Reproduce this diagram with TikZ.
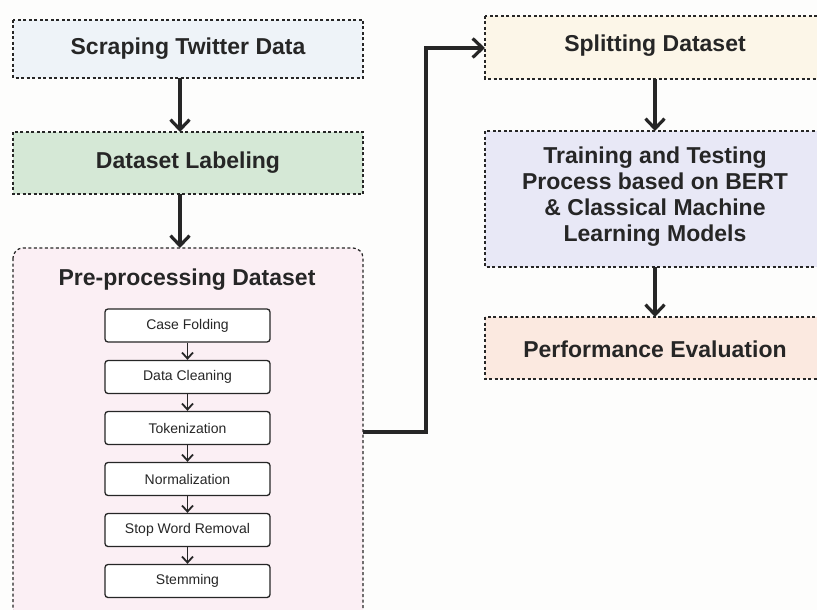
\documentclass[tikz,border=0pt]{standalone}
\usepackage{fontspec}
\setmainfont{Liberation Sans}
\usetikzlibrary{arrows.meta}
\definecolor{cScrape}{HTML}{EEF3F8}
\definecolor{cLabel}{HTML}{D5E8D6}
\definecolor{cPre}{HTML}{FBEFF4}
\definecolor{cSplit}{HTML}{FCF6E8}
\definecolor{cTrain}{HTML}{E8E8F6}
\definecolor{cPerf}{HTML}{FBE9E0}
\definecolor{cLine}{HTML}{262626}
\definecolor{cBg}{HTML}{FDFDFC}
\tikzset{
  dbox/.style={draw=cLine, line width=1.2pt, dash pattern=on 3pt off 2.5pt},
  inbox/.style={draw=cLine, line width=1.3pt, fill=white, rounded corners=3pt},
  bigarrow/.style={draw=cLine, line width=3.2pt, -{Straight Barb[length=10pt,width=19pt]}},
  smallarrow/.style={draw=cLine, line width=1.8pt, -{Straight Barb[length=6pt,width=11pt]}},
  btext/.style={font=\bfseries\fontsize{23}{26}\selectfont, text=cLine},
  itext/.style={font=\fontsize{14}{16}\selectfont, text=cLine}
}
\begin{document}
\begin{tikzpicture}[x=1pt,y=-1pt]
\useasboundingbox (0,0) rectangle (817,610);
\fill[cBg] (0,0) rectangle (817,610);
\begin{scope}
\clip (0,0) rectangle (817,610);
% left column
\draw[dbox, fill=cScrape] (13,20) rectangle (363,78);
\node[btext] (scrape) at (188,49) {Scraping Twitter Data};
\coordinate (scrapeB) at (180,78);
\draw[dbox, fill=cLabel] (13,132) rectangle (363,194);
\node[btext] (label) at (188,163) {Dataset Labeling};
\coordinate (labelT) at (180,132);
\coordinate (labelB) at (180,194);
\draw[dbox, fill=cPre, rounded corners=10pt] (13,248) rectangle (363,620);
\coordinate (preT) at (180,248);
\coordinate (preR) at (363,432);
\node[btext] (pre) at (187,280) {Pre-processing Dataset};
% inner steps
\node[inbox, minimum width=165pt, minimum height=33pt, itext] (s1) at (187.5,325.5) {Case Folding};
\node[inbox, minimum width=165pt, minimum height=33pt, itext] (s2) at (187.5,377) {Data Cleaning};
\node[inbox, minimum width=165pt, minimum height=33pt, itext] (s3) at (187.5,428) {Tokenization};
\node[inbox, minimum width=165pt, minimum height=33pt, itext] (s4) at (187.5,479) {Normalization};
\node[inbox, minimum width=165pt, minimum height=33pt, itext] (s5) at (187.5,530) {Stop Word Removal};
\node[inbox, minimum width=165pt, minimum height=33pt, itext] (s6) at (187.5,581) {Stemming};
\foreach \a/\b in {s1/s2,s2/s3,s3/s4,s4/s5,s5/s6}
  \draw[smallarrow] (\a.south) -- (\b.north);
% right column
\draw[dbox, fill=cSplit] (485,16) rectangle (830,79);
\node[btext] (split) at (655,46) {Splitting Dataset};
\coordinate (splitL) at (485,48);
\coordinate (splitB) at (655,79);
\draw[dbox, fill=cTrain] (485,131) rectangle (830,267);
\node[btext, align=center] (train) at (655,197) {Training and Testing\\Process based on BERT\\\& Classical Machine\\Learning Models};
\coordinate (trainT) at (655,131);
\coordinate (trainB) at (655,267);
\draw[dbox, fill=cPerf] (485,317) rectangle (830,379);
\node[btext] (perf) at (655,349) {Performance Evaluation};
\coordinate (perfT) at (655,317);
% connectors
\draw[bigarrow] (scrapeB) -- (labelT);
\draw[bigarrow] (labelB) -- (preT);
\draw[bigarrow] (preR) -- (426,432) -- (426,48) -- (splitL);
\draw[bigarrow] (splitB) -- (trainT);
\draw[bigarrow] (trainB) -- (perfT);
\end{scope}
\end{tikzpicture}
\end{document}
